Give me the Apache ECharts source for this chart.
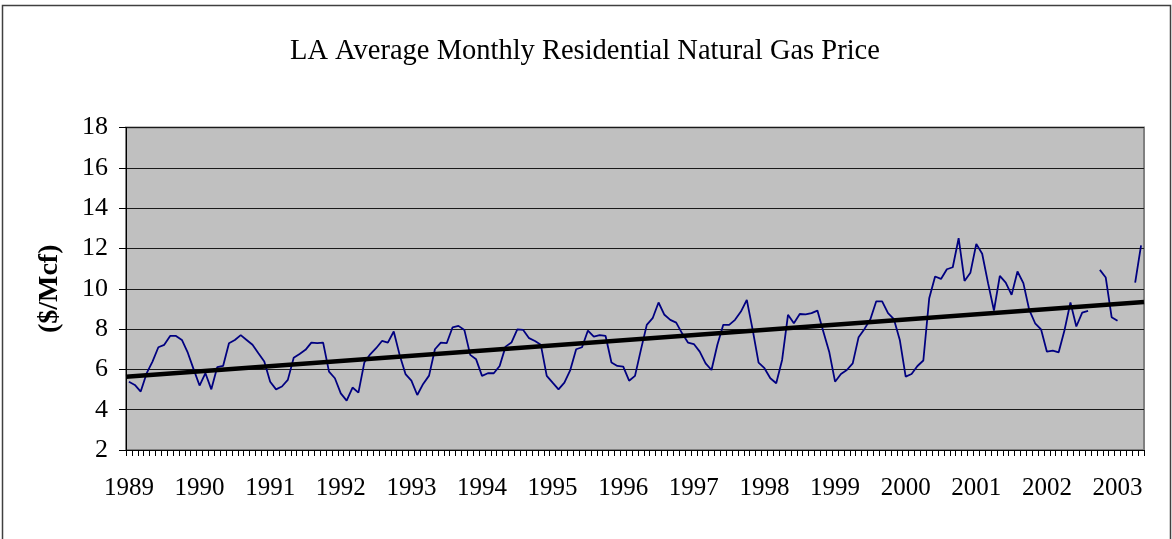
<!DOCTYPE html>
<html>
<head>
<meta charset="utf-8">
<script src="https://cdn.jsdelivr.net/npm/echarts@6/dist/echarts.min.js"></script>
<style>
html,body{margin:0;padding:0;background:#fff;}
#chart{width:1172px;height:539px;}
</style>
</head>
<body>
<div id="chart"></div>
<script>
// Year labels shown on the category axis (one label per January)
var yearLabels = ['1989','1990','1991','1992','1993','1994','1995','1996','1997','1998','1999','2000','2001','2002','2003'];
// Monthly prices ($/Mcf), Jan..Dec for each year (2003: Jan..May)
var p1989 = [5.39,5.23,4.90,5.80,6.39,7.10,7.22,7.66,7.66,7.46,6.83,6.00];
var p1990 = [5.20,5.81,5.01,6.11,6.17,7.30,7.46,7.70,7.46,7.22,6.80,6.39];
var p1991 = [5.39,5.01,5.15,5.48,6.58,6.77,6.97,7.33,7.30,7.33,5.89,5.56];
var p1992 = [4.81,4.45,5.10,4.85,6.34,6.75,7.05,7.41,7.33,7.88,6.72,5.77];
var p1993 = [5.44,4.73,5.28,5.69,7.00,7.33,7.30,8.09,8.16,7.96,6.72,6.50];
var p1994 = [5.68,5.81,5.81,6.17,7.13,7.33,7.99,7.96,7.55,7.41,7.22,5.68];
var p1995 = [5.34,5.01,5.34,5.97,7.00,7.10,7.93,7.63,7.70,7.66,6.34,6.17];
var p1996 = [6.14,5.44,5.68,6.97,8.21,8.54,9.32,8.71,8.46,8.32,7.79,7.33];
var p1997 = [7.26,6.88,6.30,5.97,7.22,8.21,8.21,8.46,8.87,9.45,7.96,6.34];
var p1998 = [6.06,5.56,5.31,6.47,8.71,8.29,8.75,8.73,8.79,8.92,7.88,6.88];
var p1999 = [5.39,5.77,5.97,6.30,7.60,8.01,8.49,9.38,9.38,8.79,8.49,7.46];
var p2000 = [5.64,5.77,6.17,6.44,9.53,10.61,10.49,10.97,11.07,12.51,10.39,10.80];
var p2001 = [12.23,11.74,10.28,8.92,10.64,10.31,9.70,10.86,10.28,8.95,8.29,7.99];
var p2002 = [6.88,6.93,6.85,7.96,9.32,8.13,8.82,8.90,null,10.94,10.56,8.59];
var p2003 = [8.41,null,null,10.31,12.15];
// Linear trend line end values (start of plot, end of plot)
var trendEnds = [5.64, 9.35];
// Y axis ticks
var yMin = 2, yMax = 18, yStep = 2;

var yearly = [p1989,p1990,p1991,p1992,p1993,p1994,p1995,p1996,p1997,p1998,p1999,p2000,p2001,p2002,p2003];
var categories = [], prices = [];
yearly.forEach(function(arr, yi){
  arr.forEach(function(v, mi){
    categories.push(yearLabels[yi] + '-' + (mi+1));
    prices.push(v);
  });
});
var n = categories.length;

var font = '"Liberation Serif", "Times New Roman", serif';
var chart = echarts.init(document.getElementById('chart'), null, {renderer:'canvas'});
chart.setOption({
  backgroundColor: '#ffffff',
  animation: false,
  title: {
    text: 'LA Average Monthly Residential Natural Gas Price',
    left: 285, top: 32,
    textStyle: {fontFamily: font, fontSize: 28.5, fontWeight: 'normal', color: '#000'}
  },
  graphic: [{
    type: 'rect', shape: {x: 2.5, y: 5.5, width: 1168, height: 540},
    style: {fill: 'none', stroke: '#404040', lineWidth: 1.5}, z: 100
  }],
  grid: {
    left: 126, top: 127.6, width: 1018, height: 322.4,
    show: true, backgroundColor: '#C0C0C0', borderColor: '#808080', borderWidth: 2
  },
  xAxis: [{
    type: 'category', data: categories, boundaryGap: true,
    axisLine: {show: true, onZero: false, lineStyle: {color: '#000', width: 1}},
    axisTick: {show: true, interval: 0, length: 6, inside: false, lineStyle: {color: '#000'}},
    axisLabel: {
      interval: 11, margin: 26, color: '#000', fontFamily: font, fontSize: 25,
      formatter: function(v){ return v.split('-')[0]; }
    },
    splitLine: {show: false}
  }, {
    type: 'value', min: -0.5, max: n - 0.5, show: false
  }],
  yAxis: {
    type: 'value', min: yMin, max: yMax, interval: yStep,
    name: '($/Mcf)', nameLocation: 'middle', nameGap: 62, nameRotate: 90,
    nameTextStyle: {fontFamily: font, fontSize: 28, fontWeight: 'bold', color: '#000'},
    axisLine: {show: true, onZero: false, lineStyle: {color: '#000', width: 1}},
    axisTick: {show: true, length: 7, lineStyle: {color: '#000'}},
    axisLabel: {margin: 18, color: '#000', fontFamily: font, fontSize: 26},
    splitLine: {show: true, lineStyle: {color: '#1a1a1a', width: 1}}
  },
  series: [{
    type: 'line', data: prices, xAxisIndex: 0,
    showSymbol: false, connectNulls: false,
    lineStyle: {color: '#000080', width: 1.8}, z: 3
  }, {
    type: 'line', xAxisIndex: 1,
    data: [[-0.5, trendEnds[0]], [n - 0.5, trendEnds[1]]],
    showSymbol: false,
    lineStyle: {color: '#000', width: 4.5}, z: 4
  }]
});
</script>
</body>
</html>
